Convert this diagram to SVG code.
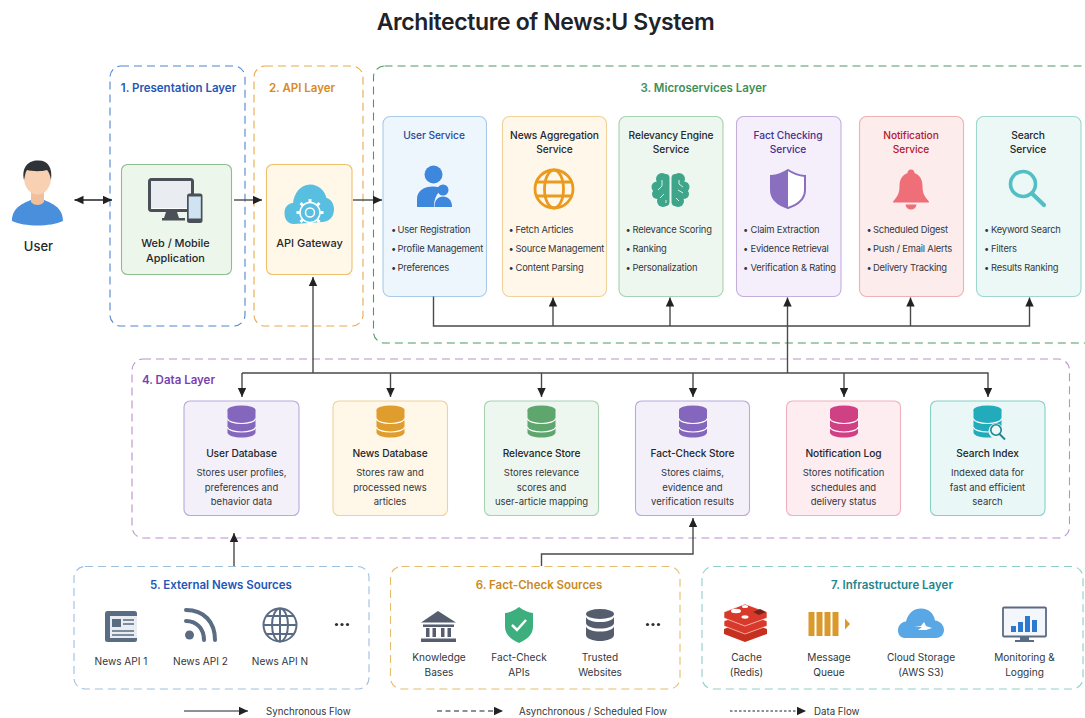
<svg xmlns="http://www.w3.org/2000/svg" width="1085" height="718" viewBox="0 0 1085 718">
<style>
text{font-family:Inter,"Noto Sans","Liberation Sans",sans-serif;fill:#24272c;text-anchor:middle}
.title{font-size:23px;font-weight:600;fill:#1f2328;letter-spacing:-.38px}
.lt{font-size:11.5px;font-weight:600}
.st{font-size:10.2px;font-weight:500;letter-spacing:-.08px}
.nt{font-size:10.9px;font-weight:500}
.li{font-size:9.4px;letter-spacing:-.2px;text-anchor:start;fill:#33373d}
.de{font-size:9.5px;fill:#33373d}
.la{font-size:10.1px;fill:#33373d}
.lg{font-size:9.7px;text-anchor:start;fill:#33373d}
.layer{fill:#fff;fill-opacity:.6;stroke-width:1.1;stroke-dasharray:8 5}
.card{stroke-width:1.1}
.c{fill:none;stroke:#4a4a4a;stroke-width:1.4}
.lgl{fill:none;stroke:#222;stroke-width:1.2}
.dots{fill:#2b2e33}
</style>
<defs>
<marker id="a" markerUnits="userSpaceOnUse" markerWidth="10" markerHeight="10" refX="9" refY="5" orient="auto-start-reverse"><path d="M0 .8L9 5L0 9.2z" fill="#222"/></marker>
<g id="cyl">
<path d="M-14 -11.500V11C-14 14 -7 16 0 16S14 14 14 11V-11.500z"/>
<ellipse cx="0" cy="-11.500" rx="14" ry="4.500"/>
<path d="M-14 -3C-14 0 -7 2 0 2S14 0 14 -3M-14 5.500C-14 8.500 -7 10.500 0 10.500S14 8.500 14 5.500" fill="none" stroke="#fff" stroke-width="1.2"/>
</g>
</defs>
<rect width="1085" height="718" fill="#fff"/>
<text class="title" x="545.500" y="30">Architecture of News:U System</text>

<g id="layer-1"><rect class="layer" x="110" y="66" width="135" height="260" rx="11" stroke="#4f86cf"/><text class="lt" x="178.500" y="92" style="fill:#2456b8">1. Presentation Layer</text></g>
<g id="layer-2"><rect class="layer" x="254" y="66" width="109" height="260" rx="11" stroke="#e8a94c"/><text class="lt" x="302" y="92" style="fill:#d98a24">2. API Layer</text></g>
<g id="layer-3"><rect class="layer" x="373.500" y="66" width="725" height="277" rx="11" stroke="#4c9a60"/><text class="lt" x="703.500" y="92" style="fill:#3f8f56">3. Microservices Layer</text></g>
<g id="layer-4"><rect class="layer" x="132" y="359" width="937.500" height="179" rx="11" stroke="#b98fd0"/><text class="lt" x="178.500" y="384" style="fill:#7a3fb0">4. Data Layer</text></g>
<g id="layer-5"><rect class="layer" x="74" y="566.500" width="295" height="122.500" rx="11" stroke="#9dbfde"/><text class="lt" x="221" y="589" style="fill:#2456b8">5. External News Sources</text></g>
<g id="layer-6"><rect class="layer" x="390.500" y="566.500" width="289.500" height="122.500" rx="11" stroke="#e6bd6a"/><text class="lt" x="539" y="589" style="fill:#c98a22">6. Fact-Check Sources</text></g>
<g id="layer-7"><rect class="layer" x="702" y="566.500" width="381" height="122.500" rx="11" stroke="#8fcdc9"/><text class="lt" x="892" y="589" style="fill:#22868f">7. Infrastructure Layer</text></g>

<g id="user">
<path d="M12 221C12 207 24 203 31 200H44C51 203 63 207 63 221C50 227 25 227 12 221Z" fill="#4a8fdc"/>
<path d="M31 190H44V202C41 206 34 206 31 202Z" fill="#f0bf9c"/>
<ellipse cx="37.500" cy="178" rx="13.500" ry="16.500" fill="#f9d0b2"/>
<path d="M24 180C21 166 30 160 38 160.500C47 160 53 167 51 180C50 175 49 172 47 170C40 172 31 171 27 170C25 173 25 176 24 180Z" fill="#2f3338"/>
<text x="38.500" y="251" style="font-size:13px;font-weight:500">User</text>
</g>

<g id="web-app">
<rect class="card" x="121.500" y="164.500" width="110" height="110" rx="6" fill="#edf6ea" stroke="#8fbd92"/>
<rect x="149.500" y="179.500" width="43" height="31" rx="2" fill="#fff" stroke="#4b4f57" stroke-width="3"/>
<rect x="151" y="181" width="40" height="27" fill="#e9edf2"/>
<path d="M166 212H177L179 218H185V220.500H162V218H164Z" fill="#4b4f57"/>
<rect x="187" y="193.500" width="15.500" height="29.500" rx="2.500" fill="#4b4f57"/>
<rect x="188.700" y="196.500" width="12.100" height="22" fill="#cfe3f3"/>
<text class="nt" x="175.500" y="246.500">Web / Mobile</text><text class="nt" x="175.500" y="262">Application</text>
</g>

<g id="api-gateway">
<rect class="card" x="266.500" y="164.500" width="85.500" height="110" rx="6" fill="#fff8e8" stroke="#eec06c"/>
<path d="M294 224C286 224 284.500 217 284.500 213C284.500 207 288 203.500 293 203C294 193 301 184.500 310 184.500C319 184.500 325 191 326.500 198C331 199 334 204 334 209C334 217 329 222 322 222Z" fill="#58bfe0"/>
<g fill="none" stroke="#fff" stroke-width="1.500"><circle cx="310" cy="212.500" r="4.500"/><circle cx="310" cy="212.500" r="10"/></g>
<path d="M310 199V203M310 222V226M296.500 212.500H300.500M319.500 212.500H323.500M300.500 203L303 205.500M317 219.500L319.500 222M319.500 203L317 205.500M303 219.500L300.500 222" stroke="#fff" stroke-width="3"/>
<text class="nt" x="309.500" y="246.500" style="font-size:11px">API Gateway</text>
</g>

<g id="user-service">
<rect class="card" x="383" y="116.500" width="103.500" height="180" rx="7" fill="#edf5fd" stroke="#a9cbe9"/>
<text class="st" x="434" y="138.500" style="fill:#2a4a97">User Service</text>
<circle cx="433.500" cy="174.500" r="9" fill="#3d87dc"/>
<path d="M417 207V199C417 191 424 186.500 433 186.500C437 186.500 441 187.500 443 189C436 193 434 200 434 207Z" fill="#3d87dc"/>
<circle cx="443" cy="190" r="5.500" fill="#3d87dc"/>
<path d="M434.500 207C434.500 200 438 196.500 443 196.500C448 196.500 452 200 452 207Z" fill="#3d87dc"/>
<text class="li" x="391" y="233">•</text><text class="li" x="397.500" y="233">User Registration</text><text class="li" x="391" y="251.500">•</text><text class="li" x="397.500" y="251.500">Profile Management</text><text class="li" x="391" y="270.500">•</text><text class="li" x="397.500" y="270.500">Preferences</text>
</g>

<g id="news-aggregation-service">
<rect class="card" x="502.500" y="116.500" width="104" height="180" rx="7" fill="#fff8ea" stroke="#eed29a"/>
<text class="st" x="554.500" y="138.500">News Aggregation</text><text class="st" x="554.500" y="153">Service</text>
<g fill="none" stroke="#ea9a1e" stroke-width="2.800"><circle cx="554" cy="189" r="19"/><ellipse cx="554" cy="189" rx="9.500" ry="19"/><path d="M537 182H571M537 196H571"/></g>
<text class="li" x="508.500" y="233">•</text><text class="li" x="515.500" y="233">Fetch Articles</text><text class="li" x="508.500" y="251.500">•</text><text class="li" x="515.500" y="251.500">Source Management</text><text class="li" x="508.500" y="270.500">•</text><text class="li" x="515.500" y="270.500">Content Parsing</text>
</g>

<g id="relevancy-engine-service">
<rect class="card" x="619" y="116.500" width="104" height="180" rx="7" fill="#edf7ef" stroke="#a6d2b2"/>
<text class="st" x="671" y="138.500">Relevancy Engine</text><text class="st" x="671" y="153">Service</text>
<g fill="#3fa58a"><circle cx="662" cy="179" r="6"/><circle cx="657" cy="187" r="5.500"/><circle cx="657" cy="194" r="5"/><circle cx="663" cy="201" r="6"/><rect x="660" y="174" width="9.500" height="32" rx="4"/><circle cx="679" cy="179" r="6"/><circle cx="684" cy="187" r="5.500"/><circle cx="684" cy="194" r="5"/><circle cx="678" cy="201" r="6"/><rect x="671.500" y="174" width="9.500" height="32" rx="4"/></g>
<path d="M662 180V186L658 190M664 194L660 198M666 200V203M679 180V184L683 187M678 190L683 193M676 198L679 201" fill="none" stroke="#d8f0e8" stroke-width="1"/>
<text class="li" x="625.500" y="233">•</text><text class="li" x="632.500" y="233">Relevance Scoring</text><text class="li" x="625.500" y="251.500">•</text><text class="li" x="632.500" y="251.500">Ranking</text><text class="li" x="625.500" y="270.500">•</text><text class="li" x="632.500" y="270.500">Personalization</text>
</g>

<g id="fact-checking-service">
<rect class="card" x="736.500" y="116.500" width="104.500" height="180" rx="7" fill="#f4effb" stroke="#c3aede"/>
<text class="st" x="788" y="138.500" style="fill:#46308f">Fact Checking</text><text class="st" x="788" y="153" style="fill:#46308f">Service</text>
<path d="M788 170C794 174 800 175.500 805 176V190C805 199 797 205 788 208C779 205 771 199 771 190V176C776 175.500 782 174 788 170Z" fill="#fff" stroke="#8a6fc0" stroke-width="2"/>
<path d="M788 170C782 174 776 175.500 771 176V190C771 199 779 205 788 208Z" fill="#8a6fc0"/>
<text class="li" x="743" y="233">•</text><text class="li" x="750.500" y="233">Claim Extraction</text><text class="li" x="743" y="251.500">•</text><text class="li" x="750.500" y="251.500">Evidence Retrieval</text><text class="li" x="743" y="270.500">•</text><text class="li" x="750.500" y="270.500">Verification &amp; Rating</text>
</g>

<g id="notification-service">
<rect class="card" x="859.500" y="116.500" width="104" height="180" rx="7" fill="#fdecec" stroke="#eeb1b4"/>
<text class="st" x="911" y="138.500" style="fill:#b3182b">Notification</text><text class="st" x="911" y="153" style="fill:#b3182b">Service</text>
<path d="M911 169.500C913.500 169.500 914.500 171.500 914.500 173C920 175 922.500 180 922.500 186C922.500 194 925 197 928.500 201C929.500 202 929 202.500 928 202.500H894C893 202.500 892.500 202 893.500 201C897 197 899.500 194 899.500 186C899.500 180 902 175 907.500 173C907.500 171.500 908.500 169.500 911 169.500Z" fill="#ef6f78"/>
<path d="M905.500 204.500H916.500C916 208 914 209.500 911 209.500C908 209.500 906 208 905.500 204.500Z" fill="#ef6f78"/>
<text class="li" x="866.500" y="233">•</text><text class="li" x="873" y="233">Scheduled Digest</text><text class="li" x="866.500" y="251.500">•</text><text class="li" x="873" y="251.500">Push / Email Alerts</text><text class="li" x="866.500" y="270.500">•</text><text class="li" x="873" y="270.500">Delivery Tracking</text>
</g>

<g id="search-service">
<rect class="card" x="976.500" y="116.500" width="104.500" height="180" rx="7" fill="#ebf8f6" stroke="#9fd6d0"/>
<text class="st" x="1028" y="138.500">Search</text><text class="st" x="1028" y="153">Service</text>
<circle cx="1023" cy="184" r="12.500" fill="none" stroke="#52bfc6" stroke-width="3.600"/>
<path d="M1032 193.500L1044 205" stroke="#52bfc6" stroke-width="4.200" stroke-linecap="round"/>
<text class="li" x="984" y="233">•</text><text class="li" x="991" y="233">Keyword Search</text><text class="li" x="984" y="251.500">•</text><text class="li" x="991" y="251.500">Filters</text><text class="li" x="984" y="270.500">•</text><text class="li" x="991" y="270.500">Results Ranking</text>
</g>

<g id="user-database">
<rect class="card" x="184" y="401" width="115" height="114.500" rx="6" fill="#f3f0fa" stroke="#b9a8da"/>
<use href="#cyl" x="241.500" y="421.500" fill="#8467bd"/>
<text class="st" x="241.500" y="457">User Database</text><text class="de" x="241.500" y="476">Stores user profiles,</text><text class="de" x="241.500" y="490.500">preferences and</text><text class="de" x="241.500" y="505">behavior data</text>
</g>
<g id="news-database">
<rect class="card" x="333" y="401" width="114.500" height="114.500" rx="6" fill="#fff8e8" stroke="#eed29a"/>
<use href="#cyl" x="390.500" y="421.500" fill="#df9d2e"/>
<text class="st" x="390" y="457">News Database</text><text class="de" x="390" y="476">Stores raw and</text><text class="de" x="390" y="490.500">processed news</text><text class="de" x="390" y="505">articles</text>
</g>
<g id="relevance-store">
<rect class="card" x="484.500" y="401" width="114" height="114.500" rx="6" fill="#eef7ef" stroke="#a6d2b2"/>
<use href="#cyl" x="541.500" y="421.500" fill="#5fa56e"/>
<text class="st" x="541.500" y="457">Relevance Store</text><text class="de" x="541.500" y="476">Stores relevance</text><text class="de" x="541.500" y="490.500">scores and</text><text class="de" x="541.500" y="505">user-article mapping</text>
</g>
<g id="fact-check-store">
<rect class="card" x="635.500" y="401" width="114" height="114.500" rx="6" fill="#f3f0fa" stroke="#b9a8da"/>
<use href="#cyl" x="693" y="421.500" fill="#8467bd"/>
<text class="st" x="692.500" y="457">Fact-Check Store</text><text class="de" x="692.500" y="476">Stores claims,</text><text class="de" x="692.500" y="490.500">evidence and</text><text class="de" x="692.500" y="505">verification results</text>
</g>
<g id="notification-log">
<rect class="card" x="786.500" y="401" width="114" height="114.500" rx="6" fill="#fdecf0" stroke="#eeb1bd"/>
<use href="#cyl" x="844" y="421.500" fill="#cf4184"/>
<text class="st" x="843.500" y="457">Notification Log</text><text class="de" x="843.500" y="476">Stores notification</text><text class="de" x="843.500" y="490.500">schedules and</text><text class="de" x="843.500" y="505">delivery status</text>
</g>
<g id="search-index">
<rect class="card" x="930.500" y="401" width="114.500" height="114.500" rx="6" fill="#e9f7f6" stroke="#85d0c8"/>
<use href="#cyl" x="987.500" y="421.500" fill="#22acbb"/>
<circle cx="996" cy="431" r="7.500" fill="#e9f7f6"/>
<circle cx="996" cy="430" r="5.200" fill="#e9f7f6" stroke="#1e8793" stroke-width="1.600"/>
<path d="M999.500 434L1005 439.500" stroke="#1e8793" stroke-width="2"/>
<text class="st" x="987.500" y="457">Search Index</text><text class="de" x="987.500" y="476">Indexed data for</text><text class="de" x="987.500" y="490.500">fast and efficient</text><text class="de" x="987.500" y="505">search</text>
</g>

<g id="news-api-1">
<rect x="105" y="611" width="32" height="31" rx="2.500" fill="#5a6b84"/><rect x="110" y="616" width="27" height="22" fill="#e9edf2"/><rect x="112" y="619" width="9" height="8" fill="#5a6b84"/><path d="M123 620H134M123 624H134M112 631H134M112 635H134" stroke="#5a6b84" stroke-width="1.500"/>
<text class="la" x="121" y="665">News API 1</text>
</g>
<g id="news-api-2">
<circle cx="189.500" cy="635" r="4.500" fill="#5a6b84"/><g fill="none" stroke="#5a6b84" stroke-width="4" stroke-linecap="round"><path d="M186 621C197 621 204 629 204 640"/><path d="M186 610C204 610 215 622 215 640"/></g>
<text class="la" x="200.500" y="665">News API 2</text>
</g>
<g id="news-api-n">
<g fill="none" stroke="#5a6b84" stroke-width="2"><circle cx="280" cy="625" r="16.500"/><ellipse cx="280" cy="625" rx="8" ry="16.500"/><path d="M280 608.500V641.500M263.500 625H296.500M266 616H294M266 634H294"/></g>
<text class="la" x="280" y="665">News API N</text>
</g>
<g class="dots"><circle cx="336.500" cy="624.500" r="1.600"/><circle cx="342" cy="624.500" r="1.600"/><circle cx="347.500" cy="624.500" r="1.600"/></g>

<g id="knowledge-bases">
<path d="M438 606V611L456 622.500H421L438 611Z" fill="#555d6e"/><path d="M423 624.500H454V627H423zM421 638.500H456V642H421z" fill="#555d6e"/><path d="M426 628H429.500V637H426zM432.500 628H436V637H432.500zM441 628H444.500V637H441zM447.500 628H451V637H447.500z" fill="#555d6e"/>
<text class="la" x="439" y="661">Knowledge</text><text class="la" x="439" y="676">Bases</text>
</g>
<g id="fact-check-apis">
<path d="M519 607C524 611 529 612.500 533 613V627C533 635 526 640 519 643C512 640 505 635 505 627V613C509 612.500 514 611 519 607Z" fill="#3daf7f"/><path d="M512 625L517 630L526 620" fill="none" stroke="#fff" stroke-width="2.500"/>
<text class="la" x="519" y="661">Fact-Check</text><text class="la" x="519" y="676">APIs</text>
</g>
<g id="trusted-websites">
<g fill="#555d6e"><ellipse cx="600" cy="614" rx="14" ry="5"/><path d="M586 616.500C586 620 593 622 600 622S614 620 614 616.500V623C614 626.500 607 628.500 600 628.500S586 626.500 586 623z"/><path d="M586 626C586 629.500 593 631.500 600 631.500S614 629.500 614 626V635C614 638.500 607 641 600 641S586 638.500 586 635z"/></g>
<text class="la" x="600" y="661">Trusted</text><text class="la" x="600" y="676">Websites</text>
</g>
<g class="dots"><circle cx="647.500" cy="624.500" r="1.600"/><circle cx="653" cy="624.500" r="1.600"/><circle cx="658.500" cy="624.500" r="1.600"/></g>

<g id="cache-redis">
<path d="M724 629L745 621L767 629V634L745 642L724 634Z" fill="#c5301f"/><path d="M724 621L745 613L767 621V626L745 634L724 626Z" fill="#d8392a" stroke="#fff" stroke-width=".6"/><path d="M724 612L745 604L767 612V618L745 626L724 618Z" fill="#d8392a" stroke="#fff" stroke-width=".6"/>
<ellipse cx="736" cy="611" rx="5" ry="2.200" fill="#fff"/><ellipse cx="745" cy="606.500" rx="3" ry="1.500" fill="#fff"/><ellipse cx="745" cy="617" rx="3.500" ry="1.700" fill="#fff"/><path d="M753 612L760 609L766 612L759 615Z" fill="#7a2218"/>
<text class="la" x="746.500" y="661">Cache</text><text class="la" x="746.500" y="676">(Redis)</text>
</g>
<g id="message-queue">
<path d="M808.500 612H814.500V636H808.500zM816.500 612H822.500V636H816.500zM824.500 612H830.500V636H824.500zM832.500 612H838.500V636H832.500zM845 618.500L850 624L845 629.500z" fill="#d99a2b"/>
<text class="la" x="829" y="661">Message</text><text class="la" x="829" y="676">Queue</text>
</g>
<g id="cloud-storage">
<path d="M905 638C900 638 898 634 898 630.500C898 625 902 622 906 621.500C908 613 914 608.500 921 608.500C929 608.500 934 614 935 620.500C940 621 944 625 944 630C944 635 940 638 936 638Z" fill="#5aa7e6"/>
<path d="M914 627L921 626L924 622L926 626L932 628L926 630H918L922 627Z" fill="#fff"/>
<text class="la" x="921" y="661">Cloud Storage</text><text class="la" x="921" y="676">(AWS S3)</text>
</g>
<g id="monitoring-logging">
<rect x="1003" y="607.500" width="43" height="29" rx="1" fill="#f3f7fb" stroke="#5a6b84" stroke-width="1.800"/>
<path d="M1020 637H1029V640H1034V642H1015V640H1020Z" fill="#5a6b84"/>
<path d="M1011 626H1016V632H1011zM1018 622H1023V632H1018zM1025 616H1030V632H1025zM1032 620H1037V632H1032z" fill="#2f78cf"/>
<text class="la" x="1024.500" y="661">Monitoring &amp;</text><text class="la" x="1024.500" y="676">Logging</text>
</g>

<g id="connectors">
<path class="c" d="M74.500 200H112" style="stroke:#222" marker-start="url(#a)" marker-end="url(#a)"/>
<path class="c" d="M234 200H262" marker-end="url(#a)"/>
<path class="c" d="M353 200H382" marker-end="url(#a)"/>
<path class="c" d="M433.500 296.500V326H1029.500V297.500" marker-end="url(#a)"/>
<path class="c" d="M553 326V297.500" marker-end="url(#a)"/>
<path class="c" d="M670 326V297.500" marker-end="url(#a)"/>
<path class="c" d="M910.500 326V297.500" marker-end="url(#a)"/>
<path class="c" d="M787.500 373V297.500" marker-end="url(#a)"/>
<path class="c" d="M313 373V277" marker-end="url(#a)"/>
<path class="c" d="M242 373H988V397" marker-end="url(#a)"/>
<path class="c" d="M242 373V397" marker-end="url(#a)"/>
<path class="c" d="M390.500 373V397" marker-end="url(#a)"/>
<path class="c" d="M541.500 373V397" marker-end="url(#a)"/>
<path class="c" d="M693 373V397" marker-end="url(#a)"/>
<path class="c" d="M844 373V397" marker-end="url(#a)"/>
<path class="c" d="M234 566V533" marker-end="url(#a)"/>
<path class="c" d="M541.500 566V554H693V518" marker-end="url(#a)"/>
</g>

<g id="legend">
<path class="lgl" d="M184 711H248" marker-end="url(#a)"/><text class="lg" x="266" y="715">Synchronous Flow</text>
<path class="lgl" d="M437 711H503" stroke-dasharray="5 3.500" marker-end="url(#a)"/><text class="lg" x="519" y="715">Asynchronous / Scheduled Flow</text>
<path class="lgl" d="M730 711H806" stroke-dasharray="2.500 2" marker-end="url(#a)"/><text class="lg" x="814" y="715">Data Flow</text>
</g>
</svg>
